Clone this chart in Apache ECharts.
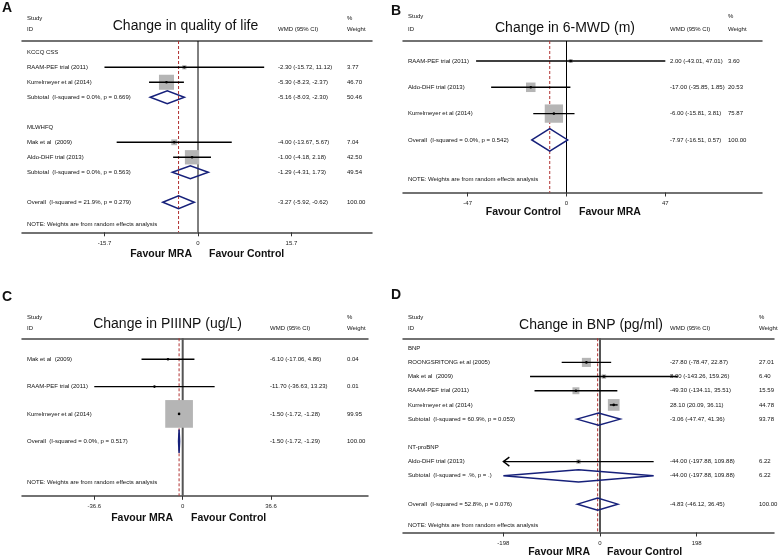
<!DOCTYPE html>
<html>
<head>
<meta charset="utf-8">
<script src="https://cdn.jsdelivr.net/npm/echarts@6/dist/echarts.min.js"></script>
<style>
html, body { margin: 0; padding: 0; background: #fff; }
#chart { width: 778px; height: 555px; }
</style>
</head>
<body>
<div id="chart"></div>
<script>
// A - quality of life
const aLabels = ['KCCQ CSS', 'RAAM-PEF trial (2011)', 'Kurrelmeyer et al (2014)', 'Subtotal  (I-squared = 0.0%, p = 0.669)',
  'MLWHFQ', 'Mak et al  (2009)', 'Aldo-DHF trial (2013)', 'Subtotal  (I-squared = 0.0%, p = 0.563)',
  'Overall  (I-squared = 21.9%, p = 0.279)', 'NOTE: Weights are from random effects analysis'];
const aRows = [0, 1, 2, 3, 5, 6, 7, 8, 10, 11.5];
const aKind = ['head', 'study', 'study', 'sub', 'head', 'study', 'study', 'sub', 'sub', 'note'];
const aEst = [null, -2.30, -5.30, -5.16, null, -4.00, -1.00, -1.29, -3.27, null];
const aLow = [null, -15.72, -8.23, -8.03, null, -13.67, -4.18, -4.31, -5.92, null];
const aHigh = [null, 11.12, -2.37, -2.30, null, 5.67, 2.18, 1.73, -0.62, null];
const aWeight = [null, 3.77, 46.70, 50.46, null, 7.04, 42.50, 49.54, 100.00, null];
const aTicks = [-15.7, 0, 15.7];

// B - 6-MWD
const bLabels = ['RAAM-PEF trial (2011)', 'Aldo-DHF trial (2013)', 'Kurrelmeyer et al (2014)',
  'Overall  (I-squared = 0.0%, p = 0.542)', 'NOTE: Weights are from random effects analysis'];
const bRows = [0, 1, 2, 3, 4.5];
const bKind = ['study', 'study', 'study', 'sub', 'note'];
const bEst = [2.00, -17.00, -6.00, -7.97, null];
const bLow = [-43.01, -35.85, -15.81, -16.51, null];
const bHigh = [47.01, 1.85, 3.81, 0.57, null];
const bWeight = [3.60, 20.53, 75.87, 100.00, null];
const bTicks = [-47, 0, 47];

// C - PIIINP
const cLabels = ['Mak et al  (2009)', 'RAAM-PEF trial (2011)', 'Kurrelmeyer et al (2014)',
  'Overall  (I-squared = 0.0%, p = 0.517)', 'NOTE: Weights are from random effects analysis'];
const cRows = [0, 1, 2, 3, 4.5];
const cKind = ['study', 'study', 'study', 'sub', 'note'];
const cEst = [-6.10, -11.70, -1.50, -1.50, null];
const cLow = [-17.06, -36.63, -1.72, -1.72, null];
const cHigh = [4.86, 13.23, -1.28, -1.29, null];
const cWeight = [0.04, 0.01, 99.95, 100.00, null];
const cTicks = [-36.6, 0, 36.6];

// D - BNP
const dLabels = ['BNP', 'ROONGSRITONG et al (2005)', 'Mak et al  (2009)', 'RAAM-PEF trial (2011)', 'Kurrelmeyer et al (2014)',
  'Subtotal  (I-squared = 60.9%, p = 0.053)', 'NT-proBNP', 'Aldo-DHF trial (2013)', 'Subtotal  (I-squared = .%, p = .)',
  'Overall  (I-squared = 52.8%, p = 0.076)', 'NOTE: Weights are from random effects analysis'];
const dRows = [0, 1, 2, 3, 4, 5, 7, 8, 9, 11, 12.5];
const dKind = ['head', 'study', 'study', 'study', 'study', 'sub', 'head', 'study', 'sub', 'sub', 'note'];
const dEst = [null, -27.80, 8.00, -49.30, 28.10, -3.06, null, -44.00, -44.00, -4.83, null];
const dLow = [null, -78.47, -143.26, -134.11, 20.09, -47.47, null, -197.88, -197.88, -46.12, null];
const dHigh = [null, 22.87, 159.26, 35.51, 36.11, 41.36, null, 109.88, 109.88, 36.45, null];
const dWeight = [null, 27.01, 6.40, 15.59, 44.78, 93.78, null, 6.22, 6.22, 100.00, null];
const dArrow = [0, 0, 0, 0, 0, 0, 0, 1, 0, 0, 0];
const dTicks = [-198, 0, 198];

const FONT = '"Liberation Sans", Arial, sans-serif';

const panels = [
  { letter: 'A', title: 'Change in quality of life', labels: aLabels, rows: aRows, kind: aKind, est: aEst, low: aLow, high: aHigh, weight: aWeight, ticks: aTicks,
    left: 22, top: 41, width: 350, height: 191.3, xmin: -29.58, xmax: 29.24, ymin: -0.75, ymax: 12, box: 2.2,
    wmdX: 256, wX: 325, letterPos: [2, 8], titlePos: [185.5, 26], headY: [18, 29],
    favour: ['Favour MRA', 'Favour Control'], favX: [192, 209], favY: 254, zeroColor: '#000', zeroWidth: 1 },
  { letter: 'B', title: 'Change in 6-MWD (m)', labels: bLabels, rows: bRows, kind: bKind, est: bEst, low: bLow, high: bHigh, weight: bWeight, ticks: bTicks,
    left: 403, top: 41, width: 359, height: 151.5, xmin: -77.78, xmax: 93.0, ymin: -0.76, ymax: 5, box: 2.1,
    wmdX: 267, wX: 325, letterPos: [391, 11], titlePos: [565, 28], headY: [16.5, 29],
    favour: ['Favour Control', 'Favour MRA'], favX: [561, 579], favY: 212, zeroColor: '#000', zeroWidth: 1 },
  { letter: 'C', title: 'Change in PIIINP (ug/L)', labels: cLabels, rows: cRows, kind: cKind, est: cEst, low: cLow, high: cHigh, weight: cWeight, ticks: cTicks,
    left: 22, top: 338.3, width: 346, height: 157.5, xmin: -66.57, xmax: 76.76, ymin: -0.77, ymax: 5, box: 2.77,
    wmdX: 248, wX: 325, letterPos: [2, 297], titlePos: [167.5, 324], headY: [317.5, 328.5],
    favour: ['Favour MRA', 'Favour Control'], favX: [173, 191], favY: 518, zeroColor: '#555', zeroWidth: 2 },
  { letter: 'D', title: 'Change in BNP (pg/ml)', labels: dLabels, rows: dRows, kind: dKind, est: dEst, low: dLow, high: dHigh, weight: dWeight, ticks: dTicks, arrow: dArrow,
    left: 403, top: 338.3, width: 371, height: 194.2, xmin: -403.4, xmax: 356.3, ymin: -0.7, ymax: 13, box: 1.75,
    wmdX: 267, wX: 356, letterPos: [391, 295], titlePos: [591, 325], headY: [317.7, 328.3],
    favour: ['Favour MRA', 'Favour Control'], favX: [590, 607], favY: 552, zeroColor: '#555', zeroWidth: 2 }
];

function txt(x, y, s, size, align, weight) {
  return {
    type: 'text', x: x, y: y, silent: true,
    style: { text: s, fill: '#111', font: (weight || 'normal') + ' ' + size + 'px ' + FONT,
      textAlign: align || 'left', textVerticalAlign: 'middle', align: align || 'left', verticalAlign: 'middle' }
  };
}

function fmt(v) { return v.toFixed(2); }

const grid = [], xAxis = [], yAxis = [], series = [], graphic = [];

panels.forEach(function (p, k) {
  grid.push({ left: p.left, top: p.top, width: p.width, height: p.height });
  xAxis.push({
    type: 'value', gridIndex: k, position: 'bottom', min: p.xmin, max: p.xmax,
    axisLine: { show: true, onZero: false, lineStyle: { color: '#444', width: 1.5 } },
    axisTick: { show: true, customValues: p.ticks, length: 4, lineStyle: { color: '#333', width: 1 } },
    axisLabel: { show: true, customValues: p.ticks, fontSize: 6, color: '#222', margin: 8, fontFamily: FONT },
    splitLine: { show: false }
  });
  xAxis.push({
    type: 'value', gridIndex: k, position: 'top', min: p.xmin, max: p.xmax,
    axisLine: { show: true, onZero: false, lineStyle: { color: '#444', width: 1.5 } },
    axisTick: { show: false }, axisLabel: { show: false }, splitLine: { show: false }
  });
  yAxis.push({ type: 'value', gridIndex: k, inverse: true, min: p.ymin, max: p.ymax, show: false });

  const overall = p.est[p.labels.findIndex(function (l) { return l.indexOf('Overall') === 0; })];

  series.push({
    type: 'line', xAxisIndex: 2 * k, yAxisIndex: k, silent: true, symbol: 'none', z: 1,
    data: [[0, p.ymin], [0, p.ymax]], lineStyle: { color: p.zeroColor, width: p.zeroWidth }
  });
  series.push({
    type: 'line', xAxisIndex: 2 * k, yAxisIndex: k, silent: true, symbol: 'none', z: 1,
    data: [[overall, p.ymin], [overall, p.ymax]], lineStyle: { color: '#b03030', width: 1, type: [3, 2] }
  });
  series.push({
    type: 'custom', xAxisIndex: 2 * k, yAxisIndex: k, silent: true, z: 2,
    data: p.rows.map(function (r, i) { return [p.est[i] == null ? 0 : p.est[i], r, i]; }),
    encode: { x: 0, y: 1 },
    renderItem: function (params, api) {
      const i = api.value(2);
      const row = p.rows[i];
      const cs = params.coordSys;
      const y = api.coord([0, row])[1];
      const kind = p.kind[i];
      const children = [txt(cs.x + 5, y, p.labels[i], 6)];
      if (kind === 'study' || kind === 'sub') {
        const lo = api.coord([p.low[i], row])[0];
        const hi = api.coord([p.high[i], row])[0];
        const c = api.coord([p.est[i], row])[0];
        if (kind === 'study') {
          const side = p.box * Math.sqrt(p.weight[i]);
          children.push({ type: 'rect', shape: { x: c - side / 2, y: y - side / 2, width: side, height: side }, style: { fill: '#b5b5b5' } });
          children.push({ type: 'line', shape: { x1: lo, y1: y, x2: hi, y2: y }, style: { stroke: '#000', lineWidth: 1.4 } });
          if (p.arrow && p.arrow[i]) {
            children.push({ type: 'polyline', shape: { points: [[lo + 6, y - 4.5], [lo, y], [lo + 6, y + 4.5]] }, style: { stroke: '#000', lineWidth: 1.4, fill: 'none' } });
          }
          children.push({ type: 'circle', shape: { cx: c, cy: y, r: 1.3 }, style: { fill: '#000' } });
        } else {
          const h = api.size([0, 1])[1] * 0.43;
          children.push({ type: 'polygon', shape: { points: [[lo, y], [c, y - h], [hi, y], [c, y + h]] }, style: { fill: 'none', stroke: '#16207a', lineWidth: 1.5 } });
        }
        children.push(txt(cs.x + p.wmdX, y, fmt(p.est[i]) + ' (' + fmt(p.low[i]) + ', ' + fmt(p.high[i]) + ')', 6));
        children.push(txt(cs.x + p.wX, y, fmt(p.weight[i]), 6));
      }
      return { type: 'group', children: children };
    }
  });

  graphic.push(txt(p.letterPos[0], p.letterPos[1], p.letter, 14, 'left', 'bold'));
  graphic.push(txt(p.titlePos[0], p.titlePos[1], p.title, 14, 'center'));
  graphic.push(txt(p.left + 5, p.headY[0], 'Study', 6));
  graphic.push(txt(p.left + 5, p.headY[1], 'ID', 6));
  graphic.push(txt(p.left + p.wmdX, p.headY[1], 'WMD (95% CI)', 6));
  graphic.push(txt(p.left + p.wX, p.headY[0], '%', 6));
  graphic.push(txt(p.left + p.wX, p.headY[1], 'Weight', 6));
  graphic.push(txt(p.favX[0], p.favY, p.favour[0], 10.5, 'right', 'bold'));
  graphic.push(txt(p.favX[1], p.favY, p.favour[1], 10.5, 'left', 'bold'));
});

const chart = echarts.init(document.getElementById('chart'), null, { renderer: 'canvas' });
chart.setOption({
  animation: false,
  backgroundColor: '#fff',
  grid: grid,
  xAxis: xAxis,
  yAxis: yAxis,
  series: series,
  graphic: graphic
});
</script>
</body>
</html>
